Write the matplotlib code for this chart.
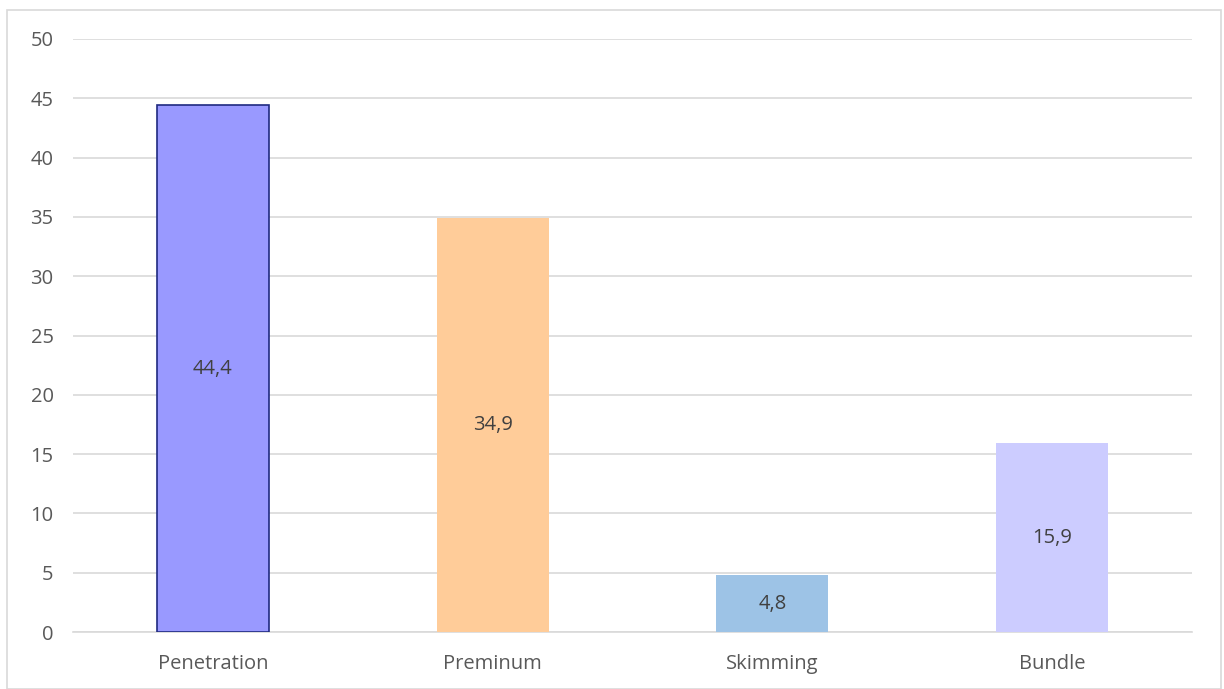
import matplotlib
matplotlib.use("Agg")
import matplotlib.pyplot as plt
from matplotlib.patches import Rectangle

categories = ["Penetration", "Preminum", "Skimming", "Bundle"]
values = [44.4, 34.9, 4.8, 15.9]
value_labels = ["44,4", "34,9", "4,8", "15,9"]
bar_colors = ["#9999FF", "#FFCC99", "#9DC3E6", "#CCCCFF"]
edge_colors = ["#1F2A80", "none", "none", "none"]
y_ticks = [0, 5, 10, 15, 20, 25, 30, 35, 40, 45, 50]

text_color = "#595959"
grid_color = "#D9D9D9"
font_size = 14.5

plt.rcParams["font.family"] = ["Open Sans", "DejaVu Sans"]

fig = plt.figure(figsize=(12.24, 6.89), dpi=100)
fig.patch.set_facecolor("white")

# outer chart frame
fig.add_artist(Rectangle((7 / 1224, 0.0), 1214 / 1224, 1 - 10 / 689,
                         transform=fig.transFigure, fill=False,
                         edgecolor=grid_color, linewidth=1.2))

ax = fig.add_axes([73 / 1224, 57 / 689, 1119 / 1224, 593 / 689])
x = range(len(categories))
for i, (v, c, ec) in enumerate(zip(values, bar_colors, edge_colors)):
    ax.bar(i, v, width=0.4, color=c,
           edgecolor=ec if ec != "none" else c,
           linewidth=1.2 if ec != "none" else 0, zorder=3)
    ax.text(i, v / 2, value_labels[i], ha="center", va="center",
            fontsize=font_size, color="#404040", zorder=4)

ax.set_xlim(-0.5, len(categories) - 0.5)
ax.set_ylim(0, 50)
ax.set_yticks(y_ticks)
ax.set_yticklabels([str(t) for t in y_ticks])
ax.set_xticks(list(x))
ax.set_xticklabels(categories)
ax.tick_params(axis="both", length=0, labelsize=font_size, colors=text_color)
ax.tick_params(axis="y", pad=14)
ax.tick_params(axis="x", pad=16)
ax.grid(axis="y", color=grid_color, linewidth=1.2, zorder=0)
for s in ["top", "right", "left"]:
    ax.spines[s].set_visible(False)
ax.spines["bottom"].set_color(grid_color)
ax.spines["bottom"].set_linewidth(1.2)

fig.savefig("out.png", dpi=100, facecolor="white")
